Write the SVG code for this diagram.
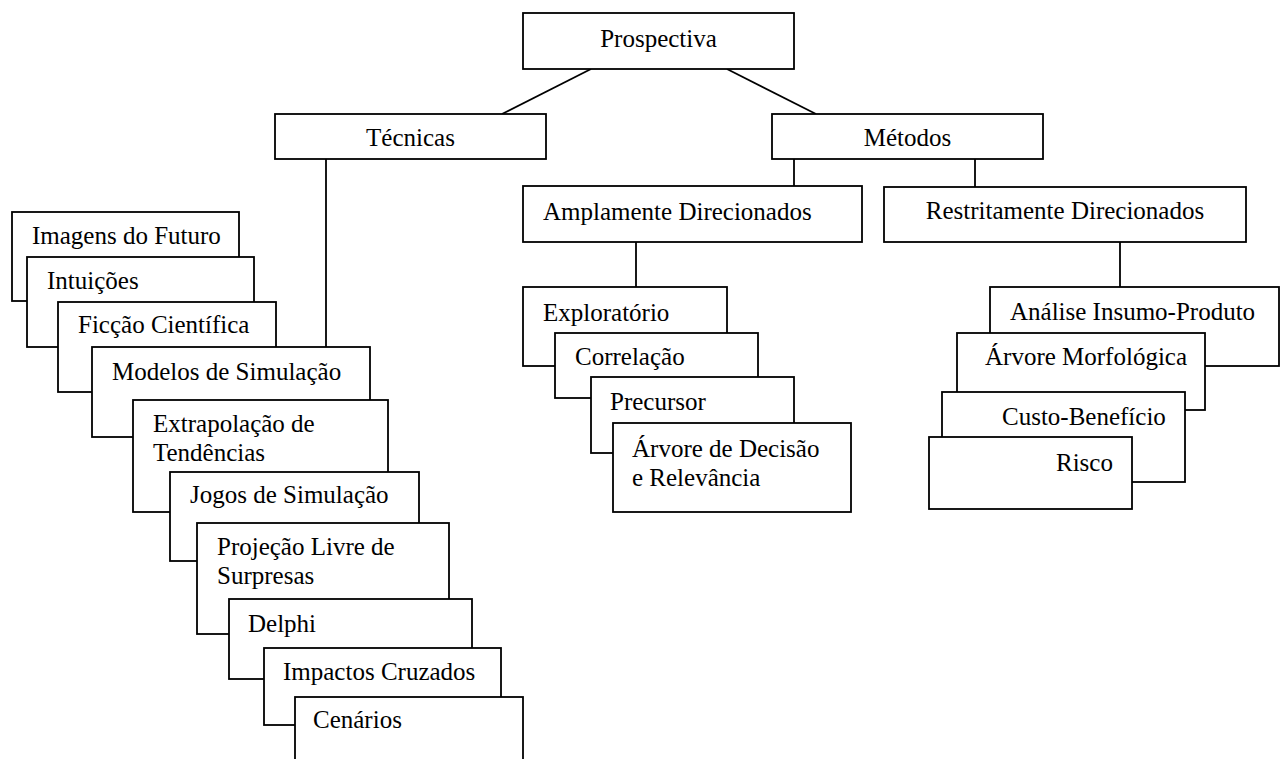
<svg xmlns="http://www.w3.org/2000/svg" width="1282" height="759" viewBox="0 0 1282 759">
  <style>
    .box { fill: #fff; stroke: #000; stroke-width: 1.8; }
    .link { fill: none; stroke: #000; stroke-width: 1.8; }
    text { font-family: "Liberation Serif", "Times New Roman", serif; font-size: 25px; fill: #000; }
    .c { text-anchor: middle; }
  </style>
  <rect width="1282" height="759" fill="#fff"/>

  <!-- connectors -->
  <g id="connectors">
    <line class="link" x1="591" y1="69" x2="502" y2="114"/>
    <line class="link" x1="727" y1="69" x2="816" y2="114"/>
    <line class="link" x1="326" y1="159" x2="326" y2="347"/>
    <line class="link" x1="794" y1="159" x2="794" y2="186"/>
    <line class="link" x1="975" y1="159" x2="975" y2="187"/>
    <line class="link" x1="636" y1="242" x2="636" y2="287"/>
    <line class="link" x1="1120" y1="242" x2="1120" y2="287"/>
  </g>

  <!-- top levels -->
  <g id="prospectiva">
    <rect class="box" x="523" y="13" width="271" height="56"/>
    <text class="c" x="658.5" y="47">Prospectiva</text>
  </g>
  <g id="tecnicas">
    <rect class="box" x="275" y="114" width="271" height="45"/>
    <text class="c" x="410.5" y="146">Técnicas</text>
  </g>
  <g id="metodos">
    <rect class="box" x="772" y="114" width="271" height="45"/>
    <text class="c" x="907.5" y="146">Métodos</text>
  </g>
  <g id="amplamente">
    <rect class="box" x="523" y="186" width="339" height="56"/>
    <text x="543" y="220">Amplamente Direcionados</text>
  </g>
  <g id="restritamente">
    <rect class="box" x="884" y="187" width="362" height="55"/>
    <text class="c" x="1065" y="219">Restritamente Direcionados</text>
  </g>

  <!-- techniques stack -->
  <g id="imagens">
    <rect class="box" x="12" y="212" width="227" height="89"/>
    <text x="32" y="244">Imagens do Futuro</text>
  </g>
  <g id="intuicoes">
    <rect class="box" x="27" y="257" width="227" height="90"/>
    <text x="47" y="289">Intuições</text>
  </g>
  <g id="ficcao">
    <rect class="box" x="58" y="302" width="218" height="90"/>
    <text x="78" y="333">Ficção Científica</text>
  </g>
  <g id="modelos">
    <rect class="box" x="92" y="347" width="278" height="90"/>
    <text x="112" y="380">Modelos de Simulação</text>
  </g>
  <g id="extrapolacao">
    <rect class="box" x="133" y="400" width="255" height="112"/>
    <text x="153" y="432">Extrapolação de</text>
    <text x="153" y="461">Tendências</text>
  </g>
  <g id="jogos">
    <rect class="box" x="170" y="472" width="249" height="89"/>
    <text x="190" y="503">Jogos de Simulação</text>
  </g>
  <g id="projecao">
    <rect class="box" x="197" y="523" width="252" height="111"/>
    <text x="217" y="555">Projeção Livre de</text>
    <text x="217" y="584">Surpresas</text>
  </g>
  <g id="delphi">
    <rect class="box" x="229" y="599" width="243" height="80"/>
    <text x="248" y="632">Delphi</text>
  </g>
  <g id="impactos">
    <rect class="box" x="264" y="648" width="237" height="77"/>
    <text x="283" y="680">Impactos Cruzados</text>
  </g>
  <g id="cenarios">
    <rect class="box" x="295" y="697" width="228" height="80"/>
    <text x="313" y="728">Cenários</text>
  </g>

  <!-- broadly directed methods -->
  <g id="exploratorio">
    <rect class="box" x="523" y="287" width="204" height="79"/>
    <text x="543" y="321">Exploratório</text>
  </g>
  <g id="correlacao">
    <rect class="box" x="555" y="333" width="203" height="65"/>
    <text x="575" y="365">Correlação</text>
  </g>
  <g id="precursor">
    <rect class="box" x="591" y="377" width="203" height="76"/>
    <text x="610" y="410">Precursor</text>
  </g>
  <g id="arvore-decisao">
    <rect class="box" x="613" y="423" width="238" height="89"/>
    <text x="632" y="457">Árvore de Decisão</text>
    <text x="632" y="486">e Relevância</text>
  </g>

  <!-- narrowly directed methods -->
  <g id="insumo-produto">
    <rect class="box" x="990" y="287" width="289" height="79"/>
    <text x="1010" y="320">Análise Insumo-Produto</text>
  </g>
  <g id="arvore-morfologica">
    <rect class="box" x="957" y="333" width="248" height="77"/>
    <text x="985" y="365">Árvore Morfológica</text>
  </g>
  <g id="custo-beneficio">
    <rect class="box" x="942" y="392" width="243" height="90"/>
    <text x="1002" y="425">Custo-Benefício</text>
  </g>
  <g id="risco">
    <rect class="box" x="929" y="437" width="203" height="72"/>
    <text x="1056" y="471">Risco</text>
  </g>
</svg>
